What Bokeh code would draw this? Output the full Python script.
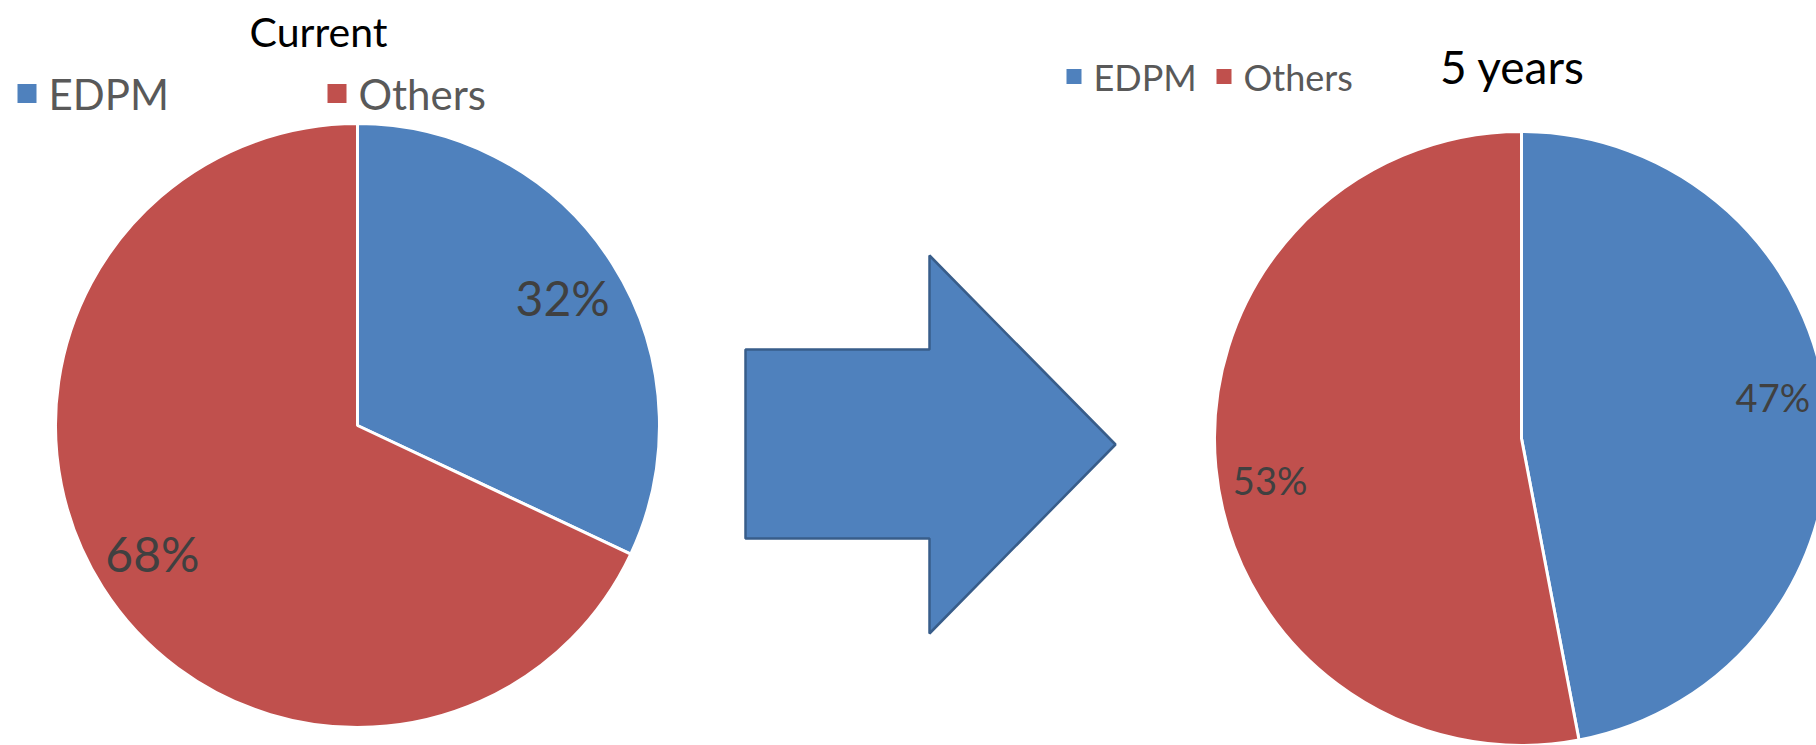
import numpy as np
from bokeh.plotting import figure
from bokeh.models import Range1d
from bokeh.core.properties import value
from bokeh.embed import file_html
from bokeh.resources import INLINE

# ---- data ----
categories = ["EDPM", "Others"]
colors = ["#4F81BD", "#C0504D"]
current = [32, 68]
five_years = [47, 53]
titles = ["Current", "5 years"]

W, H = 1816, 745
FONT = "Lato"

p = figure(width=W, height=H, output_backend="svg", toolbar_location=None,
           x_range=Range1d(0, W), y_range=Range1d(0, H),
           x_axis_location=None, y_axis_location=None, min_border=0)
p.grid.visible = False
p.outline_line_color = None
p.background_fill_color = "white"
p.border_fill_color = "white"


def Y(yd):
    return H - yd


def pie(vals, cx, cy, r, label_frac, label_size, label_rot=0.0):
    vals = np.array(vals, dtype=float)
    frac = vals / vals.sum()
    cum = np.concatenate([[0], np.cumsum(frac)])
    # clockwise from top
    start_cw = cum[:-1] * 2 * np.pi
    end_cw = cum[1:] * 2 * np.pi
    start = np.pi / 2 - end_cw
    end = np.pi / 2 - start_cw
    p.wedge(x=[cx] * len(vals), y=[Y(cy)] * len(vals), radius=r,
            start_angle=list(start), end_angle=list(end),
            fill_color=colors, line_color="white", line_width=3)
    mid = (start_cw + end_cw) / 2 + np.radians(label_rot)
    lx = cx + label_frac * r * np.sin(mid)
    ly = Y(cy) + label_frac * r * np.cos(mid)
    p.text(x=list(lx), y=list(ly), text=[f"{int(v)}%" for v in vals],
           text_align="center", text_baseline="middle",
           text_font=value(FONT), text_font_size=label_size,
           text_color="#404040")


def legend(yc, sq, gap_text, item_xs, size):
    p.rect(x=[x + sq / 2 for x in item_xs], y=[Y(yc)] * len(item_xs),
           width=sq, height=sq, fill_color=colors, line_color=None)
    p.text(x=[x + sq + gap_text for x in item_xs], y=[Y(yc)] * len(item_xs),
           text=categories, text_align="left", text_baseline="middle",
           text_font=value(FONT), text_font_size=size, text_color="#595959")


# left pie
pie(current, 357, 425, 302, 0.80, "48px", 0.5)
# right pie
pie(five_years, 1521, 438, 307, 0.83, "38px", -4.0)

# titles
p.text(x=[318, 1512], y=[Y(31), Y(66)], text=titles, text_align="center",
       text_baseline="middle", text_font=value(FONT),
       text_font_size=["41px", "46px"], text_color="black")

# legends
legend(93, 19, 12, [17, 327], "42px")
legend(76, 15, 12, [1066, 1216], "36px")

# arrow
arrow_x = [745, 929, 929, 1115, 929, 929, 745]
arrow_y = [349, 349, 255, 444, 633, 538, 538]
p.patch(x=arrow_x, y=[Y(v) for v in arrow_y], fill_color="#4F81BD",
        line_color="#385D8A", line_width=2.5)

open("out.html", "w").write(file_html(p, INLINE))
